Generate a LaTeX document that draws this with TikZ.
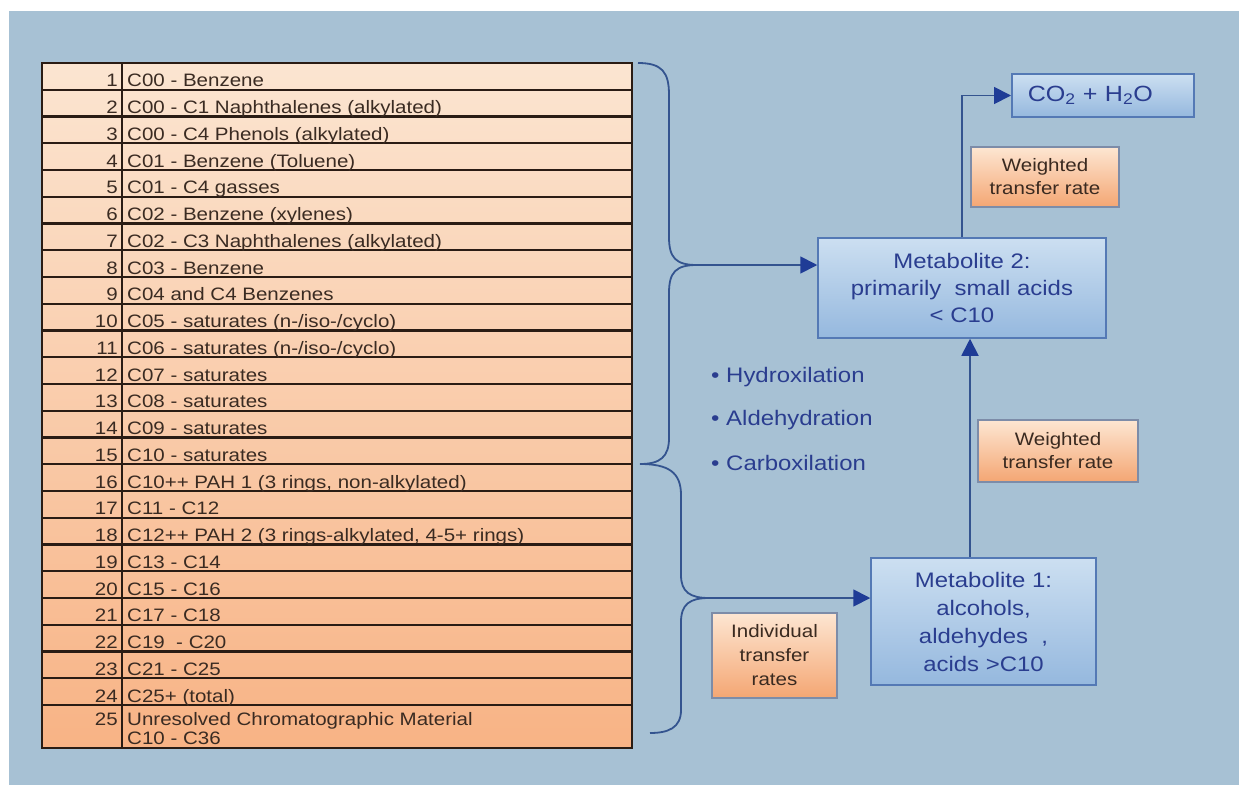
\documentclass[tikz,border=0pt]{standalone}
\usepackage{fontspec}
\setmainfont{Liberation Sans}[FakeStretch=1.14]
\usetikzlibrary{arrows.meta}
\definecolor{bg}{HTML}{A7C1D4}
\definecolor{lineblue}{HTML}{34548F}
\definecolor{tipblue}{HTML}{1F3C96}
\definecolor{boxtop}{HTML}{CCDFF1}
\definecolor{boxbot}{HTML}{95B8DE}
\definecolor{boxborder}{HTML}{5479B5}
\definecolor{textblue}{HTML}{2A3D8F}
\definecolor{otop}{HTML}{FDE6D2}
\definecolor{obot}{HTML}{F4A673}
\definecolor{oborder}{HTML}{7D8CA8}
\definecolor{otext}{HTML}{3A2A20}
\definecolor{tabtop}{HTML}{FBE5D1}
\definecolor{tabbot}{HTML}{F8B385}
\definecolor{tabline}{HTML}{2A1C14}
\definecolor{tabtext}{HTML}{3A2B22}
\begin{document}
\begin{tikzpicture}[x=1pt,y=-1pt,
  tabrule/.style={draw=tabline,line width=2.2pt},
  num/.style={anchor=base east,inner sep=0pt,text=tabtext,font=\fontsize{18}{20}\selectfont},
  rowtxt/.style={anchor=base west,inner sep=0pt,text=tabtext,font=\fontsize{18}{20}\selectfont},
  bbox/.style={draw=boxborder,line width=1.5pt,top color=boxtop,bottom color=boxbot,text=textblue,align=center,inner sep=0pt,font=\fontsize{21}{27}\selectfont},
  obox/.style={draw=oborder,line width=1.5pt,top color=otop,bottom color=obot,text=otext,align=center,inner sep=0pt,font=\fontsize{18}{23}\selectfont},
  bul/.style={anchor=west,inner sep=0pt,text=textblue,font=\fontsize{21}{25}\selectfont},
  brace/.style={draw=lineblue,line width=1.8pt},
  arr/.style={draw=lineblue,line width=1.8pt,-{Triangle[length=17pt,width=17pt,color=tipblue]}}
]
\useasboundingbox (0,0) rectangle (1239,785);
\fill[white] (0,0) rectangle (1239,785);
\fill[bg] (9,11) rectangle (1239,785);

% table
\shade[top color=tabtop,bottom color=tabbot] (42,63) rectangle (632,748);
\foreach \k in {1,...,24} {
  \draw[tabrule] (42,{63+\k*26.75}) -- (632,{63+\k*26.75});
}
\draw[tabrule] (42,63) rectangle (632,748);
\draw[tabrule] (122,63) -- (122,748);

\foreach \i/\t in {1/{C00 - Benzene},2/{C00 - C1 Naphthalenes (alkylated)},3/{C00 - C4 Phenols (alkylated)},4/{C01 - Benzene (Toluene)},5/{C01 - C4 gasses},6/{C02 - Benzene (xylenes)},7/{C02 - C3 Naphthalenes (alkylated)},8/{C03 - Benzene},9/{C04 and C4 Benzenes},10/{C05 - saturates (n-/iso-/cyclo)},11/{C06 - saturates (n-/iso-/cyclo)},12/{C07 - saturates},13/{C08 - saturates},14/{C09 - saturates},15/{C10 - saturates},16/{C10++ PAH 1 (3 rings, non-alkylated)},17/{C11 - C12},18/{C12++ PAH 2 (3 rings-alkylated, 4-5+ rings)},19/{C13 - C14},20/{C15 - C16},21/{C17 - C18},22/{C19\ \ - C20},23/{C21 - C25},24/{C25+ (total)}} {
  \pgfmathsetmacro\yb{63+\i*26.75-2.8}
  \node[num] (n\i) at (118,\yb) {\i};
  \node[rowtxt] (t\i) at (127,\yb) {\t};
}
\node[num] (n25) at (118,725) {25};
\node[rowtxt] (t25) at (127,725) {Unresolved Chromatographic Material};
\node[rowtxt] (t25b) at (127,744) {C10 - C36};

% boxes
\node[bbox,minimum width=288pt,minimum height=100pt] (m2) at (962,288) {Metabolite 2:\\primarily\ \ small acids\\< C10};
\node[bbox,minimum width=225pt,minimum height=127pt,font=\fontsize{21}{28}\selectfont] (m1) at (983.5,621.5) {Metabolite 1:\\alcohols,\\aldehydes\ \ ,\\acids >C10};
\node[bbox,anchor=west,minimum height=43pt,text width=150pt,inner xsep=16pt,align=left,font=\fontsize{22}{26}\selectfont] (co2) at (1011,95.5) {CO\textsubscript{2} + H\textsubscript{2}O};

\node[obox,minimum width=148pt,minimum height=60pt] (w1) at (1045,177) {Weighted\\transfer rate};
\node[obox,minimum width=160pt,minimum height=62pt] (w2) at (1058,451) {Weighted\\transfer rate};
\node[obox,minimum width=125pt,minimum height=85pt,font=\fontsize{18}{24}\selectfont] (ind) at (774.5,655.5) {Individual\\transfer\\rates};

% bullets
\node[bul] (h1) at (711,377) {• Hydroxilation};
\node[bul] (h2) at (711,420) {• Aldehydration};
\node[bul] (h3) at (711,463) {• Carboxilation};

% braces
\coordinate (b1) at (697,265);
\coordinate (b2) at (709,598);
\draw[brace] (638,63) .. controls (662,63) and (669,72) .. (669,95) -- (669,237)
  .. controls (669,258) and (676,265) .. (b1)
  .. controls (676,265) and (669,272) .. (669,293) -- (669,438)
  .. controls (669,457) and (660,464) .. (640,464);
\draw[brace] (640,464) .. controls (668,464) and (681,472) .. (681,495) -- (681,575)
  .. controls (681,592) and (690,598) .. (b2)
  .. controls (690,598) and (681,604) .. (681,622) -- (681,710)
  .. controls (681,728) and (668,733) .. (650,733);

% connectors
\draw[arr] (b1) -- (b1 -| m2.west);
\draw[arr] (b2) -- (b2 -| m1.west);
\draw[arr] (m1.north -| 970,0) -- (m2.south -| 970,0);
\draw[arr] (m2.north) |- (co2.west);
\end{tikzpicture}
\end{document}
